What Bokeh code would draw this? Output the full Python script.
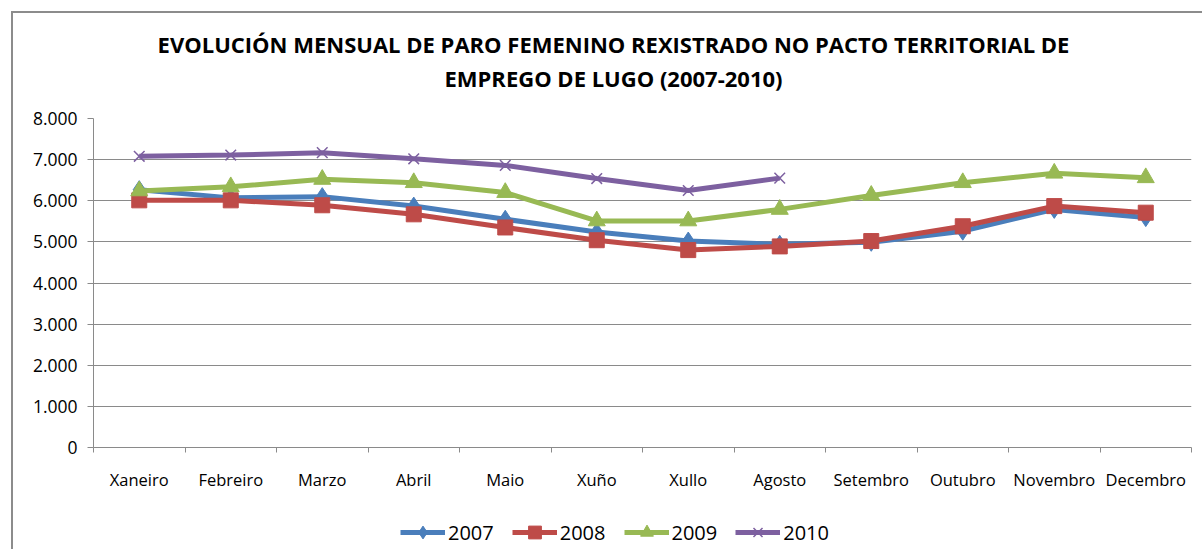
from bokeh.plotting import figure
from bokeh.layouts import column
from bokeh.models import (FixedTicker, Legend, LegendItem, Range1d)
from bokeh.core.properties import value
from bokeh.embed import file_html
from bokeh.resources import INLINE

months = ["Xaneiro", "Febreiro", "Marzo", "Abril", "Maio", "Xuño", "Xullo",
          "Agosto", "Setembro", "Outubro", "Novembro", "Decembro"]
y2007 = [6270, 6070, 6100, 5870, 5550, 5240, 5020, 4940, 4990, 5260, 5790, 5590]
y2008 = [6010, 6010, 5890, 5670, 5350, 5040, 4800, 4890, 5020, 5380, 5870, 5710]
y2009 = [6240, 6340, 6520, 6440, 6200, 5510, 5510, 5790, 6130, 6440, 6670, 6560]
y2010 = [7080, 7110, 7170, 7020, 6860, 6540, 6250, 6550]
y_ticks = [0, 1000, 2000, 3000, 4000, 5000, 6000, 7000, 8000]
y_tick_labels = ["0", "1.000", "2.000", "3.000", "4.000", "5.000", "6.000", "7.000", "8.000"]
title_lines = ["EVOLUCIÓN MENSUAL DE PARO FEMENINO REXISTRADO NO PACTO TERRITORIAL DE",
               "EMPREGO DE LUGO (2007-2010)"]

FONT = "Open Sans"
GRID = "#8a8a8a"
W = 1189
BL, BR = 80, 11          # side borders shared by all strips
FRAME_W = W - BL - BR    # pixel-wide frame width

# ---- title strip (pixel-unit ranges) ----
TH = 90
TITLE_X = 520
TITLE_BASELINES = [60, 26]
tfig = figure(width=W, height=TH, output_backend="svg", toolbar_location=None,
              x_range=Range1d(0, FRAME_W), y_range=Range1d(0, TH),
              min_border_left=BL, min_border_right=BR, min_border_top=0,
              min_border_bottom=0, x_axis_location=None, y_axis_location=None)
tfig.outline_line_color = None
tfig.grid.visible = False
tfig.text(x=[TITLE_X] * len(title_lines), y=TITLE_BASELINES, text=title_lines,
          text_font=value(FONT), text_font_size="22px", text_font_style="bold",
          text_color="#000000", text_align="center", text_baseline="alphabetic")

# ---- main chart ----
p = figure(width=W, height=406, output_backend="svg", toolbar_location=None,
           x_range=Range1d(0, len(months)), y_range=Range1d(0, 8000),
           min_border_left=BL, min_border_right=BR, min_border_top=15,
           min_border_bottom=62)
p.outline_line_color = None
p.background_fill_color = "white"
p.border_fill_color = "white"

xs = [i + 0.5 for i in range(len(months))]

p.xaxis.ticker = FixedTicker(ticks=xs, minor_ticks=list(range(len(months) + 1)))
p.xaxis.major_label_overrides = {x: m for x, m in zip(xs, months)}
p.xaxis.major_tick_line_color = None
p.xaxis.minor_tick_out = 5
p.xaxis.minor_tick_in = 0
p.xaxis.minor_tick_line_color = GRID
p.xaxis.axis_line_color = GRID
p.xaxis.major_label_standoff = 14
p.xaxis.major_label_text_font = FONT
p.xaxis.major_label_text_font_size = "16.5px"
p.xaxis.major_label_text_color = "#000000"
p.xgrid.grid_line_color = None

p.yaxis.ticker = FixedTicker(ticks=y_ticks)
p.yaxis.major_label_overrides = {t: l for t, l in zip(y_ticks, y_tick_labels)}
p.yaxis.major_tick_out = 6
p.yaxis.major_tick_in = 0
p.yaxis.minor_tick_line_color = None
p.yaxis.major_tick_line_color = GRID
p.yaxis.axis_line_color = GRID
p.yaxis.major_label_standoff = 10
p.yaxis.major_label_text_font = FONT
p.yaxis.major_label_text_font_size = "17.5px"
p.yaxis.major_label_text_color = "#000000"
p.ygrid.grid_line_color = GRID
p.ygrid.grid_line_width = 1

series = [
    ("2007", y2007, "#4A7EBB", "diamond", 18),
    ("2008", y2008, "#BE4B48", "square", 15),
    ("2009", y2009, "#98B954", "triangle", 17),
    ("2010", y2010, "#7D60A0", "x", 15),
]

# ---- legend strip (its own copies of the series sit outside its view) ----
leg = figure(width=W, height=40, output_backend="svg", toolbar_location=None,
             x_range=Range1d(0, 1), y_range=Range1d(0, 1),
             min_border_left=BL, min_border_right=BR, min_border_top=0,
             min_border_bottom=0, x_axis_location=None, y_axis_location=None)
leg.outline_line_color = None
leg.grid.visible = False

items = []
for label, ys, color, marker, size in series:
    x = xs[:len(ys)]
    p.line(x, ys, line_color=color, line_width=5)
    lln = leg.line(x, ys, line_color=color, line_width=5)
    if marker == "x":
        p.scatter(x, ys, marker="x", size=size, line_color=color, line_width=1.5)
        lsc = leg.scatter(x, ys, marker="x", size=size, line_color=color, line_width=1.5)
    else:
        p.scatter(x, ys, marker=marker, size=size, fill_color=color, line_color=color)
        lsc = leg.scatter(x, ys, marker=marker, size=size, fill_color=color, line_color=color)
    items.append(LegendItem(label=label, renderers=[lln, lsc]))

legend = Legend(items=items, orientation="horizontal", location=(307, 1),
                label_text_font=FONT, label_text_font_size="20px",
                label_text_color="#000000", glyph_width=45, glyph_height=32,
                label_standoff=3, spacing=18, border_line_color=None,
                background_fill_alpha=0, margin=0, padding=2)
leg.add_layout(legend, "center")

layout = column(tfig, p, leg, spacing=0,
                styles={"margin-left": "11px", "margin-top": "11px",
                        "border-left": "2px solid #8c8c8c",
                        "border-top": "2px solid #8c8c8c"})

open("out.html", "w").write(file_html(layout, INLINE))
